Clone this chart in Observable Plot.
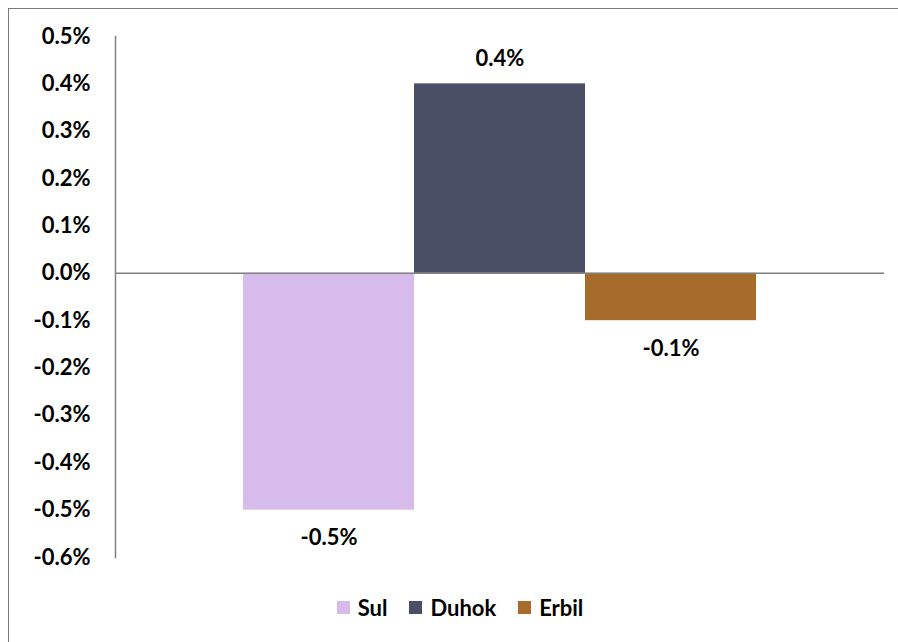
<!DOCTYPE html>
<html>
<head>
<meta charset="utf-8">
<script src="https://cdn.jsdelivr.net/npm/d3@7"></script>
<script src="https://cdn.jsdelivr.net/npm/@observablehq/plot@0.6"></script>
<style>
  html, body { margin: 0; padding: 0; background: #fff; overflow: hidden; }
  #wrap { position: relative; width: 898px; height: 642px; overflow: hidden; font-family: Lato, "Open Sans", sans-serif; font-weight: bold; }
  #border { position: absolute; left: 8px; top: 8px; width: 1000px; height: 1000px; border: 1.5px solid #7a7a7a; box-sizing: border-box; }
  #chart { position: absolute; left: 0; top: 0; }
  #legend { position: absolute; left: 0; top: 580px; width: 898px; height: 54px; display: flex; justify-content: center; align-items: center; font-size: 22px; color: #000; padding-left: 22px; box-sizing: border-box; }
  .item { display: flex; align-items: center; margin: 0 11px; }
  .sw { width: 13px; height: 13px; margin-right: 8px; }
</style>
</head>
<body>
<div id="wrap">
  <div id="border"></div>
  <div id="chart"></div>
  <div id="legend"></div>
</div>
<script>
const regions = ["Sul", "Duhok", "Erbil"];
const changes = [-0.005, 0.004, -0.001];
const colors = ["#D7BBEA", "#4A4F65", "#A76C2B"];
const yTicks = [0.005, 0.004, 0.003, 0.002, 0.001, 0, -0.001, -0.002, -0.003, -0.004, -0.005, -0.006];

const data = regions.map((r, i) => ({region: r, value: changes[i]}));
const fmt = v => (Math.abs(v) < 1e-12 ? 0 : v * 100).toFixed(1) + "%";

const chart = Plot.plot({
  width: 898,
  height: 580,
  marginLeft: 115,
  marginRight: 14,
  marginTop: 36,
  marginBottom: 23,
  style: {fontFamily: "Lato, 'Open Sans', sans-serif", fontWeight: "bold", fontSize: "22px", color: "#000", background: "transparent"},
  x: {domain: regions, paddingInner: 0, paddingOuter: 0.7485, align: 0.5, round: false, axis: null},
  y: {domain: [-0.006, 0.005], ticks: yTicks, tickFormat: fmt, tickSize: 0, tickPadding: 25, label: null},
  color: {domain: regions, range: colors},
  marks: [
    Plot.barY(data, {x: "region", y: "value", fill: "region"}),
    Plot.frame({anchor: "left", stroke: "#808080", strokeWidth: 1.5}),
    Plot.ruleY([0], {stroke: "#808080", strokeWidth: 1.5}),
    Plot.text(data.filter(d => d.value > 0), {x: "region", y: "value", text: d => fmt(d.value), dy: -25, fill: "#000", fontSize: 22}),
    Plot.text(data.filter(d => d.value < 0), {x: "region", y: "value", text: d => fmt(d.value), dy: 28, fill: "#000", fontSize: 22})
  ]
});
document.getElementById("chart").appendChild(chart);

const legend = document.getElementById("legend");
regions.forEach((r, i) => {
  const it = document.createElement("div");
  it.className = "item";
  const sw = document.createElement("div");
  sw.className = "sw";
  sw.style.background = colors[i];
  const t = document.createElement("span");
  t.textContent = r;
  it.appendChild(sw);
  it.appendChild(t);
  legend.appendChild(it);
});
</script>
</body>
</html>
